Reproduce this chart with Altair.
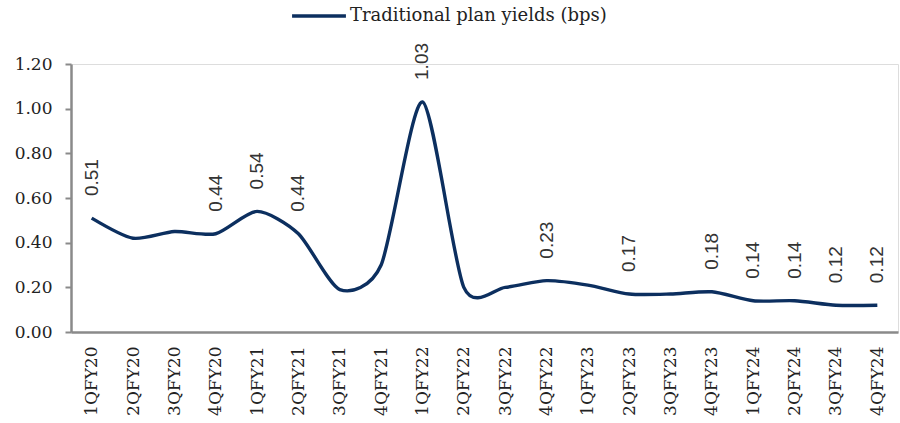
import altair as alt
import pandas as pd

quarters = ["1QFY20", "2QFY20", "3QFY20", "4QFY20", "1QFY21", "2QFY21", "3QFY21",
            "4QFY21", "1QFY22", "2QFY22", "3QFY22", "4QFY22", "1QFY23", "2QFY23",
            "3QFY23", "4QFY23", "1QFY24", "2QFY24", "3QFY24", "4QFY24"]
values = [0.51, 0.42, 0.45, 0.44, 0.54, 0.44, 0.19, 0.30, 1.03, 0.20,
          0.20, 0.23, 0.21, 0.17, 0.17, 0.18, 0.14, 0.14, 0.12, 0.12]
labels = ["0.51", "", "", "0.44", "0.54", "0.44", "", "", "1.03", "",
          "", "0.23", "", "0.17", "", "0.18", "0.14", "0.14", "0.12", "0.12"]
series_name = "Traditional plan yields (bps)"
y_ticks = [0.0, 0.2, 0.4, 0.6, 0.8, 1.0, 1.2]

df = pd.DataFrame({
    "quarter": quarters,
    "value": values,
    "label": labels,
    "series": [series_name] * len(quarters),
})

SERIF = "DejaVu Serif"
GRAY = "#8a8a8a"
NAVY = "#0c2f5f"

x = alt.X(
    "quarter:N",
    sort=quarters,
    scale=alt.Scale(type="point", padding=0.5),
    axis=alt.Axis(
        title=None, labelAngle=-90, labelAlign="right", labelBaseline="middle",
        labelFont=SERIF, labelFontSize=17, labelColor="#222222",
        ticks=False, domainColor=GRAY, domainWidth=2.5, labelPadding=14,
    ),
)
y = alt.Y(
    "value:Q",
    scale=alt.Scale(domain=[0, 1.2], nice=False, zero=True),
    axis=alt.Axis(
        title=None, values=y_ticks, format=".2f", grid=False,
        tickSize=6, tickColor=GRAY, tickWidth=2, domainColor=GRAY, domainWidth=2.5,
        labelPadding=13, labelFont=SERIF, labelFontSize=17, labelColor="#222222",
    ),
)

line = alt.Chart(df).mark_line(interpolate="cardinal", tension=0.25, strokeWidth=3.4).encode(
    x=x,
    y=y,
    color=alt.Color(
        "series:N",
        scale=alt.Scale(range=[NAVY]),
        legend=alt.Legend(
            title=None, orient="none", legendX=219, legendY=-77,
            symbolType="stroke", symbolSize=2900, symbolStrokeWidth=3.4,
            labelFont=SERIF, labelFontSize=18, labelColor="#222222",
            labelOffset=2, padding=0, labelLimit=400,
        ),
    ),
)

text = alt.Chart(df).mark_text(
    angle=270, align="left", baseline="middle", dx=22,
    font="Liberation Sans", fontSize=19, color="#333333",
).encode(x=x, y=y, text="label:N")

chart = (line + text).properties(
    width=827, height=268,
    autosize=alt.AutoSizeParams(type="none"),
    padding={"left": 71, "top": 64, "right": 2, "bottom": 91},
).configure_view(stroke=None).configure(background="white")

chart.save("out.html", embed_options={"renderer": "svg", "actions": False})
